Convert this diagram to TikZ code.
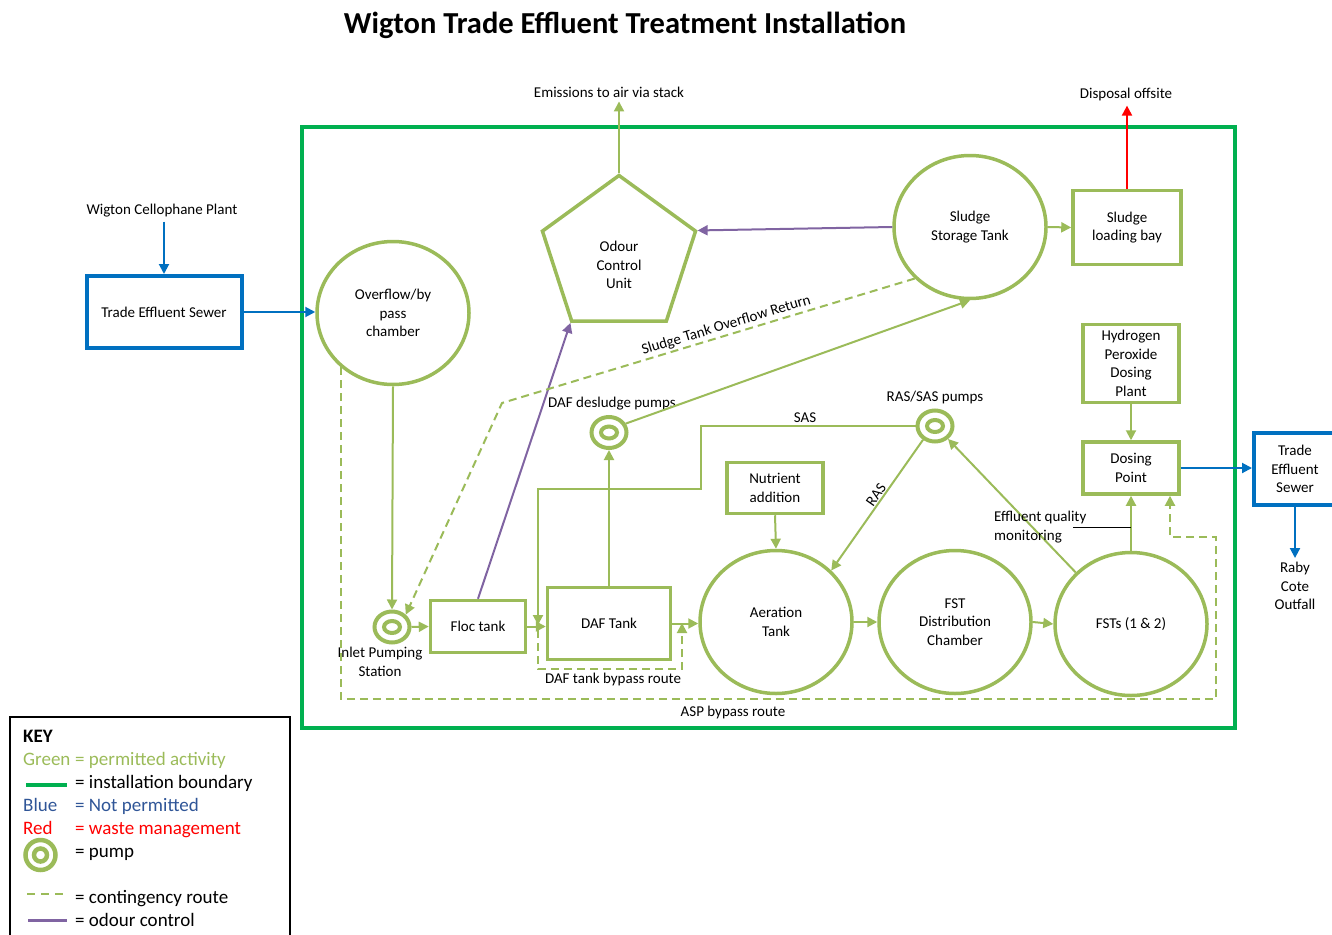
\documentclass[tikz,border=0pt]{standalone}
\usepackage{fontspec}
\setmainfont{Carlito}
\usetikzlibrary{arrows.meta,shapes.geometric,calc}
\definecolor{lg}{RGB}{155,187,89}
\definecolor{bgreen}{RGB}{0,176,80}
\definecolor{nblue}{RGB}{0,112,192}
\definecolor{kblue}{RGB}{47,85,151}
\definecolor{odour}{RGB}{128,100,162}
\definecolor{wred}{RGB}{255,0,0}
\begin{document}
\begin{tikzpicture}[x=1pt,y=-1pt,
 font=\fontsize{15}{18.5}\selectfont,
 tip/.style={-{Triangle[length=10pt,width=10pt]}},
 gbox/.style={draw=lg, line width=3.5pt, rectangle, align=center, inner sep=0pt},
 gell/.style={draw=lg, line width=3.5pt, ellipse, minimum width=152pt, minimum height=143pt, align=center, inner sep=0pt},
 bbox/.style={draw=nblue, line width=4pt, rectangle, align=center, inner sep=0pt},
 gflow/.style={draw=lg, line width=2pt, tip},
 bflow/.style={draw=nblue, line width=2pt, tip},
 oflow/.style={draw=odour, line width=2pt, tip},
 rflow/.style={draw=wred, line width=2pt, tip},
 cflow/.style={draw=lg, line width=2pt, dash pattern=on 8pt off 5pt, tip},
 pumpout/.style={draw=lg, line width=4pt, ellipse, minimum width=35pt, minimum height=31pt, inner sep=0pt},
 pumpin/.style={draw=lg, line width=4pt, ellipse, minimum width=16pt, minimum height=12pt, inner sep=0pt},
 lbl/.style={align=center, inner sep=4pt},
 keytxt/.style={anchor=base west, inner sep=0pt, font=\fontsize{19}{22}\selectfont},
]
\useasboundingbox (0,0) rectangle (1332,934);

% title
\node[font=\fontsize{30.5}{36}\selectfont\bfseries] (title) at (625,25) {Wigton Trade Effluent Treatment Installation};

% installation boundary
\draw[bgreen, line width=4pt] (302,127) rectangle (1235,728);

% outside texts
\node[lbl] (emis) at (609,92) {Emissions to air via stack};
\node[lbl] (disp) at (1126,95) {Disposal offsite};
\node[lbl] (wcp) at (162,211) {Wigton Cellophane Plant};
\node[lbl] (raby) at (1295,586) {Raby\\Cote\\Outfall};

% blue boxes
\node[bbox, minimum width=155pt, minimum height=72pt] (tes1) at (164,312) {Trade Effluent Sewer};
\node[bbox, minimum width=82pt, minimum height=72pt] (tes2) at (1295,469) {Trade\\Effluent\\Sewer};

% tanks
\node[gell] (occ) at (393,313) {Overflow/by\\pass\\chamber};
\node[gell] (sst) at (970,227) {Sludge\\Storage Tank};
\node[gell] (aer) at (776,622) {Aeration\\Tank};
\node[gell] (fstd) at (955,622) {FST\\Distribution\\Chamber};
\node[gell] (fsts) at (1131,624) {FSTs (1 \& 2)};

% odour control unit
\node[draw=lg, line width=3.5pt, regular polygon, regular polygon sides=5, minimum size=161pt, inner sep=0pt] (ocu) at (619,256) {};
\node[align=center, inner sep=0pt] (ocut) at (619,265) {Odour\\Control\\Unit};

% boxes
\node[gbox, minimum width=108pt, minimum height=74pt] (slb) at (1127,227.5) {Sludge\\loading bay};
\node[gbox, minimum width=96pt, minimum height=78pt] (hpd) at (1131,363.5) {Hydrogen\\Peroxide\\Dosing\\Plant};
\node[gbox, minimum width=96pt, minimum height=52pt] (dp) at (1131,468) {Dosing\\Point};
\node[gbox, minimum width=95pt, minimum height=52pt] (floc) at (478,626.5) {Floc tank};
\node[gbox, minimum width=123pt, minimum height=72pt] (daf) at (609,623.5) {DAF Tank};
\node[gbox, minimum width=96pt, minimum height=51pt] (nut) at (775,488) {Nutrient\\addition};

% pumps
\node[pumpout] (ips) at (392,627) {};
\node[pumpin] (ipsi) at (ips.center) {};
\node[pumpout] (dafp) at (609,432.5) {};
\node[pumpin] (dafpi) at (dafp.center) {};
\node[pumpout] (rsp) at (935,426) {};
\node[pumpin] (rspi) at (rsp.center) {};

% pump labels
\node[align=center, inner sep=0pt] (ipsl) at (380,662) {Inlet Pumping\\Station};
\node[inner sep=0pt] (dafpl) at (612,404) {DAF desludge pumps};
\node[inner sep=0pt] (rspl) at (935,397) {RAS/SAS pumps};

% blue flows
\draw[bflow] (wcp.south -| tes1.north) -- (tes1.north);
\draw[bflow] (tes1.east) -- (tes1.east -| occ.west);
\draw[bflow] (dp.east) -- (dp.east -| tes2.west);
\draw[bflow] (tes2.south) -- (raby.north);

% red flow
\draw[rflow] (slb.north) -- (slb.north |- disp.south);

% odour
\draw[oflow] (sst.west) -- (ocu.corner 5);
\draw[oflow] (floc.north) -- (ocu.corner 3);

% green flows
\draw[gflow] (ocu.corner 1) -- (ocu.corner 1 |- emis.south);
\draw[gflow] (sst.east) -- (slb.west);
\draw[gflow] (occ.south) -- (ips.north);
\draw[gflow] (ips.east) -- (floc.west);
\draw[gflow] (floc.east) -- (floc.east -| daf.west);
\draw[gflow] (daf.east) -- (daf.east -| aer.west);
\draw[gflow] (aer.east) -- (fstd.west);
\draw[gflow] (fstd.east) -- (fsts.west);
\draw[gflow] (nut.south) -- (aer.north);
\draw[gflow] (daf.north) -- (dafp.south);
\draw[gflow] (dafp.28) -- (sst.south);
\draw[gflow] (hpd.south) -- (dp.north);
\draw[gflow] (fsts.north) -- (dp.south);
\draw[gflow] (fsts.137) -- (rsp.-45);
\draw[gflow] (rsp.229) -- node[pos=0.45, rotate=55, anchor=south, inner sep=1pt] (rasl) {RAS} (aer.43);
\coordinate (dafin) at (538,625);
\draw[gflow] (rsp.west) -| (701,489) -| (dafin);
\node[inner sep=0pt] (sasl) at (805,418) {SAS};

% contingency routes
\draw[cflow] (sst.223) -- node[pos=0.45, sloped, above, inner sep=2pt] (stor) {Sludge Tank Overflow Return} (502,403) -- (ips.north east);
\draw[cflow] ($(dafin)+(0,5)$) |- (682,669) -- (682,623);
\node[inner sep=0pt] (dafbl) at (613,679) {DAF tank bypass route};
\coordinate (aspend) at ($(dp.south)+(39,0)$);
\draw[cflow] (occ.226) |- (1216,699) |- (1170,537) -- (aspend);
\node[inner sep=0pt] (aspl) at (733,712) {ASP bypass route};

% effluent quality monitoring
\node[anchor=west, align=left, inner sep=0pt] (eqm) at (994,527) {Effluent quality\\monitoring};
\draw[black, line width=1pt] (1073,527) -- (1131,527);

% key
\draw[black, line width=1.2pt] (10,717) rectangle (290,950);
\node[keytxt, font=\fontsize{19}{22}\selectfont\bfseries] (k0) at (23,742) {KEY};
\node[keytxt, text=lg] (k1a) at (23,765) {Green};
\node[keytxt, text=lg] (k1b) at (75,765) {= permitted activity};
\draw[bgreen, line width=4pt] (26,785) -- (67,785);
\node[keytxt] (k2b) at (75,788) {= installation boundary};
\node[keytxt, text=kblue] (k3a) at (23,811) {Blue};
\node[keytxt, text=kblue] (k3b) at (75,811) {= Not permitted};
\node[keytxt, text=wred] (k4a) at (23,834) {Red};
\node[keytxt, text=wred] (k4b) at (75,834) {= waste management};
\node[draw=lg, line width=4.5pt, circle, minimum size=30pt, inner sep=0pt] (kp) at (40.5,855) {};
\node[draw=lg, line width=4.5pt, circle, minimum size=13pt, inner sep=0pt] (kpi) at (kp.center) {};
\node[keytxt] (k5b) at (75,857) {= pump};
\draw[lg, line width=1.8pt, dash pattern=on 8pt off 6pt] (27,894) -- (63,894);
\node[keytxt] (k6b) at (75,903) {= contingency route};
\draw[odour, line width=3pt] (28,920) -- (67,920);
\node[keytxt] (k7b) at (75,926) {= odour control};
\end{tikzpicture}
\end{document}
